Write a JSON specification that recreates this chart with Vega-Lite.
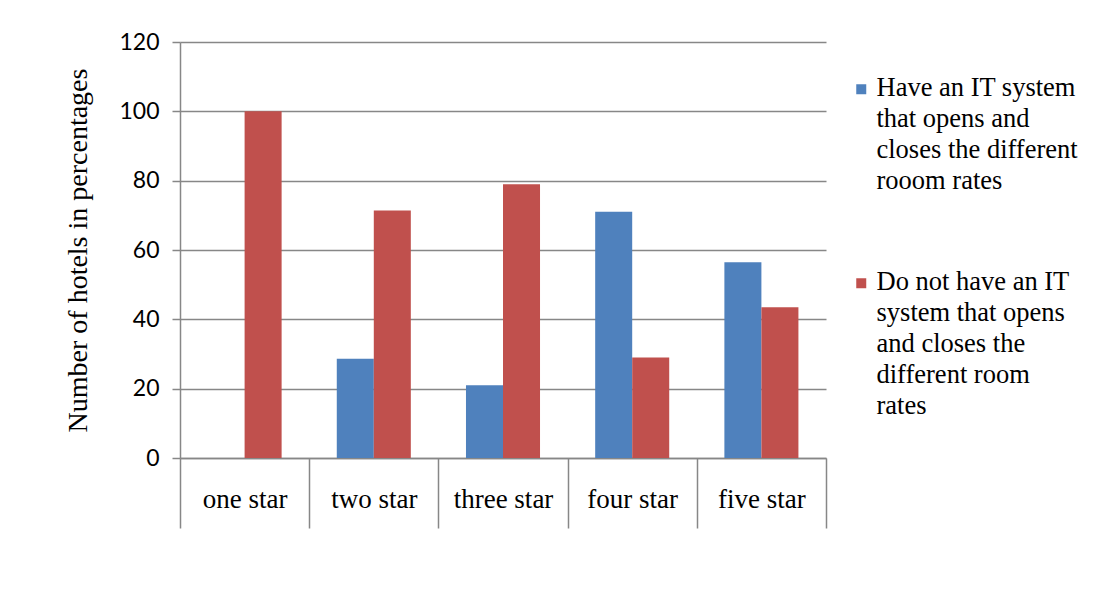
{
  "$schema": "https://vega.github.io/schema/vega-lite/v6.json",
  "width": 646,
  "height": 416,
  "autosize": {"type": "none"},
  "padding": {"left": 180, "top": 42, "right": 277, "bottom": 137},
  "background": "white",
  "config": {"view": {"stroke": null}, "font": "Liberation Serif"},
  "data": {
    "values": [
      {"star": "one star", "series": "Have an IT system that opens and closes the different rooom rates", "value": 0},
      {"star": "one star", "series": "Do not have an IT system that opens and closes the different room rates", "value": 100},
      {"star": "two star", "series": "Have an IT system that opens and closes the different rooom rates", "value": 28.6},
      {"star": "two star", "series": "Do not have an IT system that opens and closes the different room rates", "value": 71.4},
      {"star": "three star", "series": "Have an IT system that opens and closes the different rooom rates", "value": 21},
      {"star": "three star", "series": "Do not have an IT system that opens and closes the different room rates", "value": 79},
      {"star": "four star", "series": "Have an IT system that opens and closes the different rooom rates", "value": 71},
      {"star": "four star", "series": "Do not have an IT system that opens and closes the different room rates", "value": 29},
      {"star": "five star", "series": "Have an IT system that opens and closes the different rooom rates", "value": 56.5},
      {"star": "five star", "series": "Do not have an IT system that opens and closes the different room rates", "value": 43.5}
    ]
  },
  "mark": {"type": "bar"},
  "encoding": {
    "x": {
      "field": "star",
      "type": "nominal",
      "sort": ["one star", "two star", "three star", "four star", "five star"],
      "scale": {"paddingInner": 0, "paddingOuter": 0},
      "axis": {
        "title": null,
        "labelAngle": 0,
        "labelFont": "Liberation Serif",
        "labelFontSize": 27,
        "labelColor": "black",
        "tickBand": "extent",
        "tickSize": 70,
        "tickColor": "#878787",
        "tickWidth": 1.5,
        "domainColor": "#878787",
        "domainWidth": 1.5,
        "labelBaseline": "middle",
        "labelPadding": -29
      }
    },
    "xOffset": {
      "field": "series",
      "sort": [
        "Have an IT system that opens and closes the different rooom rates",
        "Do not have an IT system that opens and closes the different room rates"
      ],
      "scale": {"paddingInner": 0, "paddingOuter": 0.745}
    },
    "y": {
      "field": "value",
      "type": "quantitative",
      "scale": {"domain": [0, 120]},
      "axis": {
        "values": [0, 20, 40, 60, 80, 100, 120],
        "title": "Number of hotels in percentages",
        "titleFont": "Liberation Serif",
        "titleFontSize": 28,
        "titleFontWeight": "normal",
        "titleColor": "black",
        "titlePadding": 26,
        "labelFont": "Lato",
        "labelFontSize": 23,
        "labelColor": "black",
        "labelPadding": 13,
        "tickSize": 8,
        "tickColor": "#878787",
        "tickWidth": 1.5,
        "domainColor": "#878787",
        "domainWidth": 1.5,
        "gridColor": "#878787",
        "gridWidth": 1.5
      }
    },
    "color": {
      "field": "series",
      "type": "nominal",
      "scale": {
        "domain": [
          "Have an IT system that opens and closes the different rooom rates",
          "Do not have an IT system that opens and closes the different room rates"
        ],
        "range": ["#4F81BD", "#C0504D"]
      },
      "legend": {
        "title": null,
        "orient": "none",
        "legendX": 668,
        "legendY": 34,
        "padding": 0,
        "symbolType": "square",
        "symbolSize": 100,
        "symbolStrokeWidth": 0,
        "labelFont": "Liberation Serif",
        "labelFontSize": 26.5,
        "labelColor": "black",
        "labelLimit": 300,
        "labelOffset": 2,
        "labelBaseline": "top",
        "rowPadding": 74,
        "labelExpr": "indexof(datum.label, 'Do not') == 0 ? ['Do not have an IT', 'system that opens', 'and closes the', 'different room', 'rates'] : ['Have an IT system', 'that opens and', 'closes the different', 'rooom rates']",
        "encode": {"labels": {"update": {"lineHeight": {"value": 31}, "dy": {"value": -14}}}}
      }
    }
  }
}
